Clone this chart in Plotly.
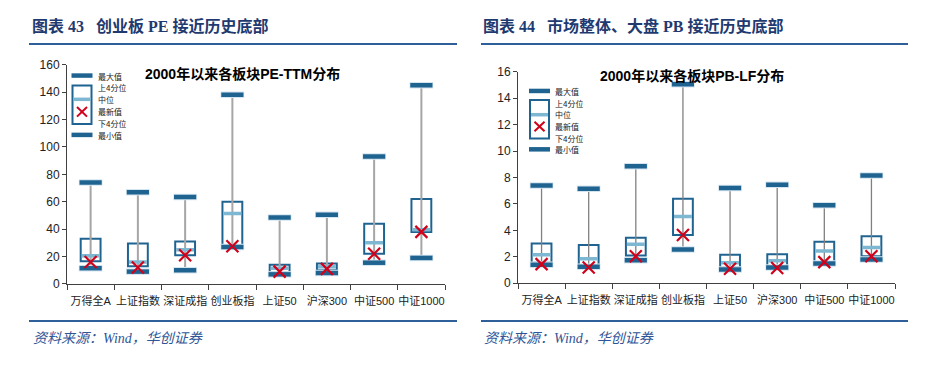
import plotly.graph_objects as go

W, H = 928, 365

categories = ["万得全A", "上证指数", "深证成指", "创业板指", "上证50", "沪深300", "中证500", "中证1000"]

pe_max = [74, 67, 63.5, 138, 48.5, 50.5, 93, 145]
pe_q3 = [33, 29.5, 31, 60, 14, 15, 44, 62]
pe_med = [20.5, 16, 25, 51.5, 11.5, 12.5, 30, 39.5]
pe_q1 = [16.5, 13, 21, 27.5, 8.5, 10, 22, 38]
pe_min = [11.5, 9, 10, 27, 7, 8, 15.5, 19]
pe_latest = [16, 12, 21, 27.5, 9, 11, 22, 38]

pb_max = [7.4, 7.15, 8.85, 15.05, 7.2, 7.45, 5.9, 8.15]
pb_q3 = [3.0, 2.9, 3.45, 6.4, 2.15, 2.2, 3.15, 3.55]
pb_med = [2.15, 1.85, 2.95, 5.05, 1.55, 1.7, 2.45, 2.7]
pb_q1 = [1.55, 1.35, 2.1, 3.65, 1.2, 1.3, 1.55, 2.05]
pb_min = [1.4, 1.25, 1.75, 2.55, 1.05, 1.2, 1.5, 1.8]
pb_latest = [1.45, 1.2, 2.05, 3.65, 1.1, 1.15, 1.6, 2.05]

pe_ticks = [0, 20, 40, 60, 80, 100, 120, 140, 160]
pb_ticks = [0, 2, 4, 6, 8, 10, 12, 14, 16]

legend_labels = ["最大值", "上4分位", "中位", "最新值", "下4分位", "最小值"]

DARK = "#1F6391"
LIGHT = "#7DB7D2"
RED = "#D0021B"
NAVY = "#1F3A70"
LINEBLUE = "#2F5F98"
CJK = "Noto Sans CJK SC"
SANS = "Liberation Sans, Noto Sans CJK SC"

xs = list(range(len(categories)))


def segs(vals, half):
    X, Y = [], []
    for i, v in zip(xs, vals):
        X += [i - half, i + half, None]
        Y += [v, v, None]
    return X, Y


def vsegs(lo, hi):
    X, Y = [], []
    for i, a, b in zip(xs, lo, hi):
        X += [i, i, None]
        Y += [a, b, None]
    return X, Y


fig = go.Figure()


def add_chart(xa, ya, mx, q3, md, q1, mn, lt, wcol, wwid, xsize):
    # box
    fig.add_trace(go.Bar(x=xs, y=[a - b for a, b in zip(q3, q1)], base=q1, width=0.42,
                         marker=dict(color="rgba(255,255,255,0)", line=dict(color=DARK, width=2)),
                         xaxis=xa, yaxis=ya, showlegend=False, hoverinfo="skip"))
    # whisker
    X, Y = vsegs(mn, mx)
    fig.add_trace(go.Scatter(x=X, y=Y, mode="lines", line=dict(color=wcol, width=wwid),
                             xaxis=xa, yaxis=ya, showlegend=False, hoverinfo="skip"))
    # median
    X, Y = segs(md, 0.19)
    fig.add_trace(go.Scatter(x=X, y=Y, mode="lines", line=dict(color=LIGHT, width=3.5),
                             xaxis=xa, yaxis=ya, showlegend=False, hoverinfo="skip"))
    # max / min bars
    for vals in (mx, mn):
        X, Y = segs(vals, 0.25)
        fig.add_trace(go.Scatter(x=X, y=Y, mode="lines", line=dict(color="#D5E5EF", width=6.5),
                                 xaxis=xa, yaxis=ya, showlegend=False, hoverinfo="skip"))
        X, Y = segs(vals, 0.235)
        fig.add_trace(go.Scatter(x=X, y=Y, mode="lines", line=dict(color=DARK, width=4.5),
                                 xaxis=xa, yaxis=ya, showlegend=False, hoverinfo="skip"))
    # latest
    fig.add_trace(go.Scatter(x=xs, y=lt, mode="markers",
                             marker=dict(symbol="x-thin", size=xsize, line=dict(color=RED, width=2.2)),
                             xaxis=xa, yaxis=ya, showlegend=False, hoverinfo="skip"))


add_chart("x", "y", pe_max, pe_q3, pe_med, pe_q1, pe_min, pe_latest, "#A6A6A6", 2, 12)
add_chart("x2", "y2", pb_max, pb_q3, pb_med, pb_q1, pb_min, pb_latest, "#808080", 1.3, 12)


def xaxis_cfg(domain, anchor):
    return dict(domain=domain, anchor=anchor, range=[-0.5, 7.5], tickmode="array",
                tickvals=xs, ticktext=categories, ticks="", showline=True, linecolor="#404040",
                linewidth=1, showgrid=False, zeroline=False, fixedrange=True, tickangle=0,
                ticklabelstandoff=7,
                tickfont=dict(family=SANS, size=11, color="#222"),
                minor=dict(tickmode="array", tickvals=[i - 0.5 for i in range(9)], ticks="outside",
                           ticklen=5, tickcolor="#404040", tickwidth=1, showgrid=False))


def yaxis_cfg(domain, anchor, rng, ticks):
    return dict(domain=domain, anchor=anchor, range=rng, tickmode="array", tickvals=ticks,
                ticks="outside", ticklen=4, tickcolor="#404040", showline=True, linecolor="#404040",
                linewidth=1, showgrid=False, zeroline=False,
                tickfont=dict(family=SANS, size=12, color="#222"))


def px(x):
    return x / W


def py(y):
    return 1 - y / H


fig.update_layout(
    width=W, height=H, margin=dict(l=0, r=0, t=0, b=0),
    paper_bgcolor="white", plot_bgcolor="white", barmode="overlay", showlegend=False,
    xaxis=xaxis_cfg([px(67), px(445)], "y"),
    yaxis=yaxis_cfg([py(288), py(60)], "x", [0, 160], pe_ticks),
    xaxis2=xaxis_cfg([px(518), px(895)], "y2"),
    yaxis2=yaxis_cfg([py(287.3), py(67.3)], "x2", [0, 16], pb_ticks),
)

shapes = []
annotations = []


def hline(x0, x1, y, color, width):
    shapes.append(dict(type="line", xref="paper", yref="paper", x0=px(x0), x1=px(x1),
                       y0=py(y), y1=py(y), line=dict(color=color, width=width)))


def text(x, y, s, size, color="#222", family=CJK, xanchor="left", bold=False, italic=False, height=None):
    if bold:
        s = "<b>" + s + "</b>"
    if italic:
        s = "<i>" + s + "</i>"
    a = dict(x=px(x), y=py(y), xref="paper", yref="paper", text=s, showarrow=False,
             xanchor=xanchor, yanchor="middle", font=dict(size=size, color=color, family=family))
    if height:
        a["height"] = height
        a["valign"] = "middle"
    annotations.append(a)


# headers
text(30, 20, "图表 43 &nbsp;&nbsp;创业板 PE 接近历史底部", 16, NAVY, "Liberation Serif, " + CJK, bold=True)
text(481, 20, "图表 44 &nbsp;&nbsp;市场整体、大盘 PB 接近历史底部", 16, NAVY, "Liberation Serif, " + CJK, bold=True)
hline(29, 457, 38.5, LINEBLUE, 2)
hline(481, 908, 38.5, LINEBLUE, 2)
hline(29, 457, 326.5, LINEBLUE, 2)
hline(481, 908, 326.5, LINEBLUE, 2)
text(31, 345, "资料来源：Wind，华创证券", 14, "#2F5597", "Liberation Serif, " + CJK, italic=True)
text(482, 345, "资料来源：Wind，华创证券", 14, "#2F5597", "Liberation Serif, " + CJK, italic=True)

# chart titles
text(242, 70, "2000年以来各板块PE-TTM分布", 14, "#000", SANS, xanchor="center", bold=True)
text(692, 72, "2000年以来各板块PB-LF分布", 14, "#000", SANS, xanchor="center", bold=True)


def legend(x0, ymax, ybox0, ybox1, ymed, ylat, ymin, label_y0, label_step):
    # max bar
    shapes.append(dict(type="line", xref="paper", yref="paper", x0=px(x0), x1=px(x0 + 21),
                       y0=py(ymax), y1=py(ymax), line=dict(color=DARK, width=4.5)))
    # box
    shapes.append(dict(type="rect", xref="paper", yref="paper", x0=px(x0 + 1), x1=px(x0 + 20),
                       y0=py(ybox1), y1=py(ybox0), line=dict(color=DARK, width=2),
                       fillcolor="rgba(0,0,0,0)"))
    shapes.append(dict(type="line", xref="paper", yref="paper", x0=px(x0 + 2), x1=px(x0 + 19),
                       y0=py(ymed), y1=py(ymed), line=dict(color=LIGHT, width=3.5)))
    # min bar
    shapes.append(dict(type="line", xref="paper", yref="paper", x0=px(x0), x1=px(x0 + 21),
                       y0=py(ymin), y1=py(ymin), line=dict(color=DARK, width=4.5)))
    # X
    c, r = x0 + 10.5, 5
    for dx in (-1, 1):
        shapes.append(dict(type="line", xref="paper", yref="paper", x0=px(c - r), x1=px(c + r),
                           y0=py(ylat - dx * r), y1=py(ylat + dx * r), line=dict(color=RED, width=2)))
    for k, lab in enumerate(legend_labels):
        text(x0 + 24, label_y0 + k * label_step, lab, 8, "#222", CJK, height=10)


legend(71.5, 71.3, 81.7, 121.7, 96, 109, 133, 71.3, 12.4)
legend(529, 87.3, 96.7, 136.7, 112, 124.3, 148, 87.3, 12.15)

fig.update_layout(shapes=shapes, annotations=annotations)
fig.write_html("out.html", config={"displayModeBar": False},
               post_script="document.body.style.margin='0px';document.body.style.overflow='hidden';")
